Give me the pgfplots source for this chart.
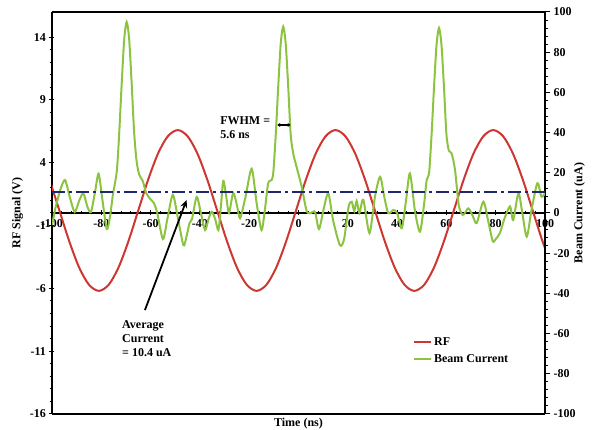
\documentclass[border=0pt]{standalone}
\usepackage{pgfplots}
\pgfplotsset{compat=1.18}
\usepackage{fontspec}
\setmainfont{Liberation Serif}
\usetikzlibrary{arrows.meta}
\definecolor{rfred}{RGB}{205,55,50}
\definecolor{beamgreen}{RGB}{140,195,65}
\definecolor{avgnavy}{RGB}{30,40,110}
\begin{document}
\begin{tikzpicture}[font=\fontsize{12}{14}\selectfont\bfseries]
\path[use as bounding box] (0,0) rectangle (592pt,430pt);
\pgfplotsset{
  common/.style={
    scale only axis, width=493pt, height=402pt,
    at={(52pt,16pt)}, anchor=south west,
    xmin=-100, xmax=100,
    /pgf/number format/assume math mode=true,
    ticklabel style={font=\fontsize{12}{14}\selectfont\bfseries},
    label style={font=\fontsize{12}{14}\selectfont\bfseries},
    tick align=outside,
    major tick length=5pt, minor tick length=3pt,
    tick style={black, line width=1pt},
  }
}
\begin{axis}[common,
  ymin=-16, ymax=16,
  axis x line=middle, axis y line=left,
  axis line style={-, line width=2pt},
  x axis line style={-}, y axis line style={-},
  xtick={-100,-80,...,100}, minor x tick num=4,
  ytick={-16,-11,...,14}, minor y tick num=4,
  hide obscured x ticks=false, hide obscured y ticks=false,
  ylabel={RF Signal (V)},
  every axis y label/.style={at={(axis description cs:-0.07,0.5)}, rotate=90, anchor=center},
  xlabel={Time (ns)},
  every axis x label/.style={at={(axis description cs:0.5,0)}, anchor=north, yshift=-1pt},
]
\addplot[rfred, line width=2pt, smooth] coordinates {
(-101,2.65) (-97,0.2) (-93,-2.25) (-89,-4.33) (-85,-5.71) (-81,-6.2) (-77,-5.71) (-73,-4.33)
(-69,-2.25) (-65,0.2) (-61,2.65) (-57,4.73) (-53,6.11) (-49,6.6) (-45,6.11) (-41,4.73)
(-37,2.65) (-33,0.2) (-29,-2.25) (-25,-4.33) (-21,-5.71) (-17,-6.2) (-13,-5.71) (-9,-4.33)
(-5,-2.25) (-1,0.2) (3,2.65) (7,4.73) (11,6.11) (15,6.6) (19,6.11) (23,4.73)
(27,2.65) (31,0.2) (35,-2.25) (39,-4.33) (43,-5.71) (47,-6.2) (51,-5.71) (55,-4.33)
(59,-2.25) (63,0.2) (67,2.65) (71,4.73) (75,6.11) (79,6.6) (83,6.11) (87,4.73)
(91,2.65) (95,0.2) (99,-2.25) (103,-4.33)
};
\end{axis}
\begin{axis}[common,
  ymin=-100, ymax=100,
  axis y line*=right, axis x line=box,
  axis line style={-, line width=1.5pt},
  xtick=\empty,
  ytick={-100,-80,...,100}, minor y tick num=4,
  ylabel={Beam Current (uA)},
  every axis y label/.style={at={(axis description cs:1.07,0.5)}, rotate=90, anchor=center},
  legend style={draw=none, fill=none, at={(axis description cs:0.726,0.2015)}, anchor=north west,
    row sep=4pt, font=\fontsize{12}{14}\selectfont\bfseries},
  legend cell align=left,
  legend image code/.code={\draw[#1] (0pt,0pt) -- (17pt,0pt);},
]
\addlegendimage{rfred, line width=2pt}
\addlegendentry{RF}
\addplot[beamgreen, line width=2pt, smooth, tension=0.45] coordinates {
(-100,-6) (-98.5,3) (-96.5,12) (-94.7,16.4) (-92.8,8) (-90.8,0.5) (-89,6) (-87.3,9.8)
(-85.6,3) (-84.2,0.5) (-82.6,10) (-81.1,19.5) (-79.6,7) (-77.8,-8) (-76.5,-2) (-75.3,9)
(-73.7,21) (-72.7,40.5) (-71.7,65) (-70.7,86.5) (-69.7,95) (-68.7,86.5) (-67.7,65) (-66.7,40.5)
(-65.7,26) (-64.6,19) (-63.2,16) (-61.8,10) (-60.2,7) (-58.7,5) (-57.3,0) (-55,-13)
(-53.2,-3) (-51,9) (-49,-2) (-46.7,-16) (-45.5,-12) (-44.2,-5) (-43.2,-3) (-41.3,8)
(-39.6,0) (-37.9,-8.5) (-36.5,-3) (-35.2,0.6) (-33.8,-3) (-32.5,-8.5) (-31.5,3) (-30.5,16)
(-29.3,8) (-28.2,0) (-26.5,10) (-25,4) (-23.7,-2.6) (-21.5,8) (-19,22) (-17,5)
(-15,-8.5) (-13.6,2) (-12.3,14.8) (-10.9,16.4) (-10.2,20.4) (-9.2,39.6) (-8.2,63.5) (-7.2,84.4)
(-6.2,92.7) (-5.2,84.4) (-4.2,63.5) (-3.2,39.6) (-2.2,30) (-0.8,23) (1.3,13) (3.3,1)
(5,0) (6.7,0.5) (8.3,-8) (10.2,2) (12.1,9.8) (14.1,-4) (16.8,-16) (18.5,-13)
(20.3,3) (21.6,5.6) (22.6,1) (23.6,6) (24.7,0) (26.3,6.5) (28.8,-10) (31,8)
(33.1,18) (34.8,8) (36.4,0) (38.5,1.5) (40,0) (41.9,-7.6) (43.6,6) (45.2,19.7)
(47.3,0.6) (49.3,-9.3) (51,5) (52,16.4) (53,20.2) (54,39.3) (55,63) (56,83.7)
(57,92) (58,83.7) (59,63) (60,39.3) (61,31) (62.1,29.7) (63.5,21.4) (65,4)
(66.7,-1) (68.9,2.3) (70.7,-1.5) (72.3,-5) (75,5.6) (77,-4.3) (78.8,-14) (80,-13)
(81.7,-10) (83.5,-3) (85.8,3.3) (87.1,-3.5) (89.2,9.8) (90.8,0) (92.6,-11.8) (94.6,2)
(96.9,14.8) (98.6,8.1) (100,10)
};
\addlegendentry{Beam Current}
\addplot[avgnavy, line width=2.2pt, dash pattern=on 13pt off 4pt on 3pt off 4pt, forget plot]
  coordinates {(-100,10.4) (100,10.4)};
\draw[line width=1.8pt, -{Stealth[length=8pt,width=7pt]}] (axis cs:-62.3,-48.3) -- (axis cs:-45.4,6.5);
\draw[line width=1.2pt, {Stealth[length=3pt,width=4pt]}-{Stealth[length=3pt,width=4pt]}]
  (axis cs:-8.6,43.8) -- (axis cs:-3.2,43.8);
\node[anchor=north west, align=left, inner sep=0pt] at (axis cs:-31.8,47.8) {FWHM =\\5.6 ns};
\node[anchor=north west, align=left, inner sep=0pt] at (axis cs:-71.6,-53.5) {Average\\Current\\= 10.4 uA};
\end{axis}
\end{tikzpicture}
\end{document}
